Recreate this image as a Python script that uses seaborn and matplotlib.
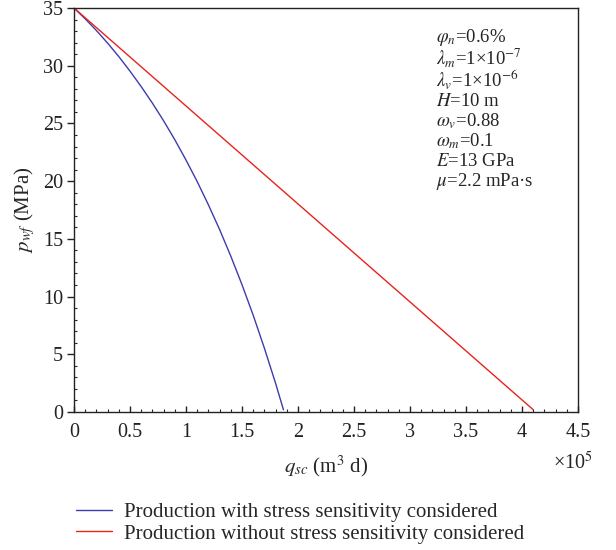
import numpy as np
import pandas as pd
import matplotlib
matplotlib.use("Agg")
import matplotlib.pyplot as plt
import seaborn as sns
from matplotlib.ticker import MultipleLocator, FixedLocator

# ---- data ----
q_with = [0.0, 0.1, 0.2, 0.3, 0.4, 0.5, 0.6, 0.7, 0.8, 0.9, 1.0, 1.1, 1.2,
          1.3, 1.4, 1.5, 1.6, 1.7, 1.8, 1.87]
p_with = [35.0, 34.06, 33.05, 31.96, 30.79, 29.53, 28.19, 26.76, 25.23, 23.59,
          21.83, 19.96, 17.95, 15.81, 13.5, 11.03, 8.38, 5.53, 2.48, 0.2]
q_without = [0.0, 4.1]
p_without = [35.0, 0.2]

series_names = ["Production with stress sensitivity considered",
                "Production without stress sensitivity considered"]
series_colors = ["#3c3cae", "#e8231c"]

x_ticks = [0, 0.5, 1, 1.5, 2, 2.5, 3, 3.5, 4, 4.5]
x_ticklabels = ["0", "0.5", "1", "1.5", "2", "2.5", "3", "3.5", "4", "4.5"]
y_ticks = [0, 5, 10, 15, 20, 25, 30, 35]

param_lines = [r"$\varphi_n$=0.6%",
               r"$\lambda_m$=1×10$^{-7}$",
               r"$\lambda_v$=1×10$^{-6}$",
               r"$H$=10 m",
               r"$\omega_v$=0.88",
               r"$\omega_m$=0.1",
               r"$E$=13 GPa",
               r"$\mu$=2.2 mPa·s"]

df = pd.concat([
    pd.DataFrame({"q": q_with, "p": p_with, "series": series_names[0]}),
    pd.DataFrame({"q": q_without, "p": p_without, "series": series_names[1]}),
], ignore_index=True)

# ---- style ----
sns.set_style("ticks")
plt.rcParams["font.family"] = ["Liberation Serif", "DejaVu Serif"]
plt.rcParams["mathtext.fontset"] = "stix"

FS = 14.5
fig = plt.figure(figsize=(6.16, 5.5), dpi=100)
ax = fig.add_axes([74 / 616, 1 - 412 / 550, 504 / 616, 404 / 550])

sns.lineplot(data=df, x="q", y="p", hue="series", hue_order=series_names,
             palette=dict(zip(series_names, series_colors)), estimator=None,
             sort=False, linewidth=1.0, ax=ax, legend=True)

ax.set_xlim(0, 4.5)
ax.set_ylim(0, 35)
ax.xaxis.set_major_locator(FixedLocator(x_ticks))
ax.set_xticklabels(x_ticklabels)
ax.yaxis.set_major_locator(FixedLocator(y_ticks))
ax.xaxis.set_minor_locator(MultipleLocator(0.1))
ax.yaxis.set_minor_locator(MultipleLocator(1))

ax.tick_params(axis="x", which="major", direction="in", length=4, width=1,
               labelsize=FS, pad=8, colors="#222222")
ax.tick_params(axis="x", which="minor", direction="in", length=2, width=0.8)
ax.tick_params(axis="y", which="major", direction="out", length=5, width=1,
               labelsize=FS, pad=3, colors="#222222")
ax.tick_params(axis="y", which="minor", direction="in", length=2.5, width=0.8)

for s in ax.spines.values():
    s.set_visible(True)
    s.set_linewidth(1.0)
    s.set_color("#222222")

ax.set_xlabel(r"$q_{sc}$ (m$^3$ d)", fontsize=15, labelpad=8)
ax.set_ylabel(r"$p_{wf}$ (MPa)", fontsize=15, labelpad=4)

fig.text(593 / 616, 1 - 463 / 550, r"×10$^5$", fontsize=FS, ha="right",
         va="center")

# parameter block
y_px = [37, 57, 80, 101, 121, 141, 161, 181]
for txt, yp in zip(param_lines, y_px):
    ax.text(0.718, (412 - yp) / 404, txt, transform=ax.transAxes,
            fontsize=13.5, ha="left", va="center")

handles, labels = ax.get_legend_handles_labels()
ax.legend(handles, labels, loc="upper left", frameon=False,
          bbox_to_anchor=(68 / 616, 1 - 494 / 550),
          bbox_transform=fig.transFigure, fontsize=15, handlelength=1.7,
          handletextpad=0.6, labelspacing=0.1, borderaxespad=0)

fig.savefig("out.png", dpi=100)
